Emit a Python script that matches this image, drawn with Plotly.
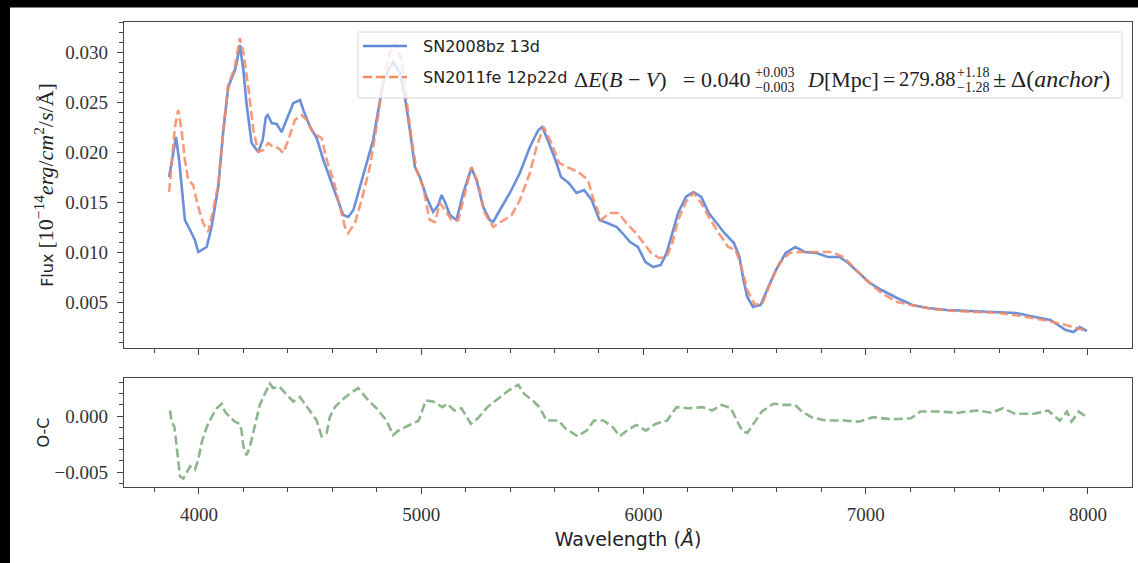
import plotly.graph_objects as go

# ---------------- data ----------------
wl_08bz = [3866, 3897, 3911, 3922, 3937, 3960, 3982, 3997, 4015, 4035, 4057, 4087, 4110, 4132,
           4162, 4170, 4184, 4200, 4214, 4237, 4267, 4287, 4301, 4310, 4327, 4350, 4372, 4395,
           4425, 4455, 4470, 4500, 4530, 4560, 4589, 4620, 4649, 4672, 4695, 4724, 4755, 4784,
           4807, 4829, 4852, 4874, 4904, 4927, 4949, 4972, 4994, 5024, 5054, 5077, 5092, 5107,
           5129, 5159, 5189, 5226, 5249, 5279, 5309, 5324, 5354, 5399, 5444, 5489, 5527, 5545,
           5569, 5604, 5629, 5664, 5699, 5733, 5767, 5802, 5837, 5880, 5905, 5940, 5975, 6009,
           6044, 6078, 6104, 6130, 6156, 6191, 6225, 6260, 6294, 6329, 6364, 6407, 6432, 6450,
           6467, 6493, 6527, 6562, 6596, 6640, 6683, 6726, 6778, 6830, 6881, 6916, 6968, 7019,
           7071, 7141, 7210, 7279, 7365, 7469, 7573, 7676, 7762, 7831, 7900, 7935, 7963, 7995]
flux_08bz = [0.0175, 0.0215, 0.0192, 0.0165, 0.0132, 0.0122, 0.0112, 0.0100, 0.0102, 0.0105,
             0.0125, 0.0165, 0.0222, 0.0265, 0.0282, 0.0289, 0.0307, 0.0282, 0.0249, 0.0209,
             0.0200, 0.0212, 0.0235, 0.0237, 0.0229, 0.0228, 0.0220, 0.0232, 0.0249, 0.0252,
             0.0242, 0.0225, 0.0214, 0.0192, 0.0175, 0.0155, 0.0137, 0.0135, 0.0142, 0.0165,
             0.0189, 0.0212, 0.0242, 0.0269, 0.0282, 0.0290, 0.0279, 0.0255, 0.0222, 0.0185,
             0.0175, 0.0155, 0.0140, 0.0147, 0.0157, 0.0150, 0.0137, 0.0132, 0.0159, 0.0184,
             0.0172, 0.0145, 0.0132, 0.0130, 0.0142, 0.0159, 0.0179, 0.0205, 0.0222, 0.0225,
             0.0212, 0.0192, 0.0175, 0.0169, 0.0159, 0.0162, 0.0152, 0.0132, 0.0129, 0.0125,
             0.0119, 0.0110, 0.0105, 0.0090, 0.0085, 0.0087, 0.0099, 0.0119, 0.0139, 0.0155,
             0.0160, 0.0155, 0.0139, 0.0129, 0.0119, 0.0109, 0.0095, 0.0072, 0.0055, 0.0045,
             0.0047, 0.0065, 0.0082, 0.0099, 0.0105, 0.0100, 0.0099, 0.0095, 0.0095, 0.0090,
             0.0079, 0.0069, 0.0062, 0.0054, 0.0047, 0.0044, 0.0042, 0.0041, 0.0040, 0.0039,
             0.0035, 0.0032, 0.0022, 0.0020, 0.0025, 0.0021]

wl_11fe = [3866, 3877, 3892, 3907, 3922, 3937, 3952, 3974, 3997, 4019, 4042, 4064, 4087, 4110,
           4132, 4162, 4184, 4200, 4222, 4245, 4267, 4290, 4312, 4335, 4357, 4380, 4402, 4432,
           4462, 4485, 4515, 4552, 4575, 4605, 4634, 4657, 4672, 4702, 4732, 4769, 4799, 4829,
           4859, 4882, 4912, 4934, 4957, 4979, 5009, 5032, 5039, 5062, 5084, 5107, 5137, 5167,
           5197, 5226, 5256, 5286, 5324, 5369, 5407, 5444, 5489, 5519, 5551, 5586, 5621, 5655,
           5707, 5750, 5776, 5811, 5845, 5888, 5923, 5966, 6000, 6035, 6070, 6104, 6130, 6156,
           6191, 6225, 6260, 6294, 6338, 6381, 6415, 6441, 6467, 6502, 6536, 6571, 6613, 6657,
           6709, 6778, 6847, 6899, 6942, 7002, 7071, 7141, 7227, 7300, 7400, 7500, 7600, 7700,
           7800, 7900, 7995]
flux_11fe = [0.0160, 0.0189, 0.0225, 0.0242, 0.0222, 0.0192, 0.0172, 0.0167, 0.0145, 0.0129,
             0.0120, 0.0142, 0.0167, 0.0222, 0.0267, 0.0285, 0.0314, 0.0300, 0.0265, 0.0222,
             0.0200, 0.0202, 0.0209, 0.0205, 0.0204, 0.0199, 0.0212, 0.0232, 0.0237, 0.0232,
             0.0219, 0.0214, 0.0192, 0.0172, 0.0147, 0.0125, 0.0119, 0.0129, 0.0152, 0.0185,
             0.0225, 0.0272, 0.0299, 0.0309, 0.0292, 0.0252, 0.0212, 0.0182, 0.0165, 0.0139,
             0.0132, 0.0130, 0.0149, 0.0142, 0.0132, 0.0132, 0.0159, 0.0185, 0.0169, 0.0139,
             0.0125, 0.0132, 0.0137, 0.0152, 0.0179, 0.0205, 0.0225, 0.0209, 0.0189, 0.0185,
             0.0180, 0.0172, 0.0152, 0.0132, 0.0139, 0.0139, 0.0129, 0.0119, 0.0109, 0.0099,
             0.0094, 0.0095, 0.0109, 0.0132, 0.0150, 0.0159, 0.0149, 0.0135, 0.0119, 0.0105,
             0.0102, 0.0085, 0.0062, 0.0047, 0.0049, 0.0069, 0.0089, 0.0099, 0.0100, 0.0100,
             0.0100, 0.0095, 0.0085, 0.0072, 0.0059, 0.0050, 0.0046, 0.0043, 0.0041, 0.0040,
             0.0039, 0.0036, 0.0032, 0.0027, 0.0021]

wl_oc = [3870, 3877, 3890, 3900, 3915, 3930, 3945, 3960, 3982, 3997, 4012, 4035, 4057, 4080,
         4102, 4117, 4140, 4162, 4184, 4192, 4200, 4214, 4230, 4252, 4274, 4297, 4319, 4334,
         4364, 4395, 4425, 4455, 4477, 4507, 4530, 4552, 4575, 4589, 4612, 4642, 4679, 4717,
         4739, 4762, 4799, 4844, 4874, 4897, 4947, 4989, 5021, 5053, 5096, 5117, 5149, 5181,
         5224, 5255, 5298, 5351, 5394, 5437, 5462, 5501, 5532, 5564, 5618, 5649, 5703, 5745,
         5777, 5820, 5862, 5894, 5926, 5968, 6011, 6054, 6107, 6149, 6203, 6266, 6309, 6352,
         6394, 6420, 6447, 6468, 6500, 6532, 6585, 6628, 6682, 6713, 6756, 6820, 6905, 6969,
         7033, 7118, 7203, 7246, 7331, 7416, 7501, 7565, 7618, 7672, 7757, 7820, 7873, 7905,
         7926, 7959, 7995]
oc_vals = [0.0005, -0.0005, -0.0010, -0.0030, -0.0054, -0.0056, -0.0051, -0.0045, -0.0048,
           -0.0039, -0.0024, -0.0010, -0.0001, 0.0007, 0.0011, 0.0004, -0.0001, -0.0005,
           -0.0007, -0.0013, -0.0027, -0.0035, -0.0027, -0.0007, 0.0010, 0.0020, 0.0029,
           0.0025, 0.0026, 0.0019, 0.0013, 0.0017, 0.0011, 0.0002, -0.0004, -0.0018, -0.0015,
           -0.0001, 0.0008, 0.0014, 0.0020, 0.0025, 0.0020, 0.0014, 0.0007, -0.0004, -0.0017,
           -0.0013, -0.0008, -0.0004, 0.0014, 0.0013, 0.0008, 0.0011, 0.0005, 0.0007, -0.0007,
           -0.0002, 0.0008, 0.0016, 0.0023, 0.0028, 0.0020, 0.0014, 0.0008, -0.0004, -0.0004,
           -0.0011, -0.0018, -0.0013, -0.0004, -0.0004, -0.0010, -0.0018, -0.0013, -0.0008,
           -0.0013, -0.0007, -0.0004, 0.0008, 0.0007, 0.0008, 0.0005, 0.0010, 0.0007, -0.0004,
           -0.0014, -0.0015, -0.0005, 0.0004, 0.0011, 0.0010, 0.0010, 0.0004, -0.0001, -0.0004,
           -0.0004, -0.0005, -0.0001, -0.0003, -0.0002, 0.0004, 0.0004, 0.0003, 0.0005, 0.0003,
           0.0007, 0.0002, 0.0002, 0.0005, -0.0004, 0.0004, -0.0005, 0.0004, -0.0001]

name_08bz = "SN2008bz 13d"
name_11fe = "SN2011fe 12p22d"

# ---------------- geometry helpers (pixels -> paper) ----------------
W, H = 1138, 563
L, R, T, B = 124, 1132, 22, 487


def px(x):
    return (x - L) / (R - L)


def py(y):
    return (B - y) / (B - T)


BLUE = "#5f87d7"
ORANGE = "#f58a66"
GREEN = "#8db68d"
SERIF = "Liberation Serif"
SANS = "DejaVu Sans"

fig = go.Figure()
fig.add_trace(go.Scatter(x=wl_08bz, y=flux_08bz, mode="lines", name=name_08bz,
                         line=dict(color=BLUE, width=2.6), opacity=0.92,
                         xaxis="x", yaxis="y", showlegend=False))
fig.add_trace(go.Scatter(x=wl_11fe, y=flux_11fe, mode="lines", name=name_11fe,
                         line=dict(color=ORANGE, width=2.6, dash="9px,4px"), opacity=0.85,
                         xaxis="x", yaxis="y", showlegend=False))
fig.add_trace(go.Scatter(x=wl_oc, y=oc_vals, mode="lines", name="O-C",
                         line=dict(color=GREEN, width=2.6, dash="9px,4px"),
                         xaxis="x2", yaxis="y2", showlegend=False))

axis_common = dict(showline=True, mirror=True, linecolor="#444", linewidth=1.3,
                   showgrid=False, zeroline=False, ticks="outside", ticklen=6,
                   tickwidth=1.2, tickcolor="#444",
                   tickfont=dict(family=SERIF, size=19, color="#333"))
minor_x = dict(dtick=200, tick0=0, ticklen=3.5, ticks="outside", tickcolor="#444")
minor_y = dict(dtick=0.001, tick0=0, ticklen=3.5, ticks="outside", tickcolor="#444")

flux_title = ("Flux <span style=\"font-family:'Liberation Serif';font-size:22px\">[10<sup>−14</sup>"
              "<i>erg</i>/<i>cm</i><sup>2</sup>/<i>s</i>/Å]</span>")

xr = [3663, 8198]
fig.update_layout(
    width=W, height=H,
    margin=dict(l=L, r=W - R, t=T, b=H - B),
    paper_bgcolor="white", plot_bgcolor="white",
    xaxis=dict(domain=[0, 1], anchor="y", range=xr, dtick=1000, tick0=0,
               showticklabels=False, minor=minor_x, **axis_common),
    xaxis2=dict(domain=[0, 1], anchor="y2", range=xr, dtick=1000, tick0=0, matches="x",
                ticklabelstandoff=4, minor=minor_x,
                title=dict(text="Wavelength (<i>Å</i>)", standoff=8,
                           font=dict(family=SANS, size=19, color="#222")),
                **axis_common),
    yaxis=dict(domain=[py(348), 1], anchor="x", range=[0.0004, 0.0330], dtick=0.005, tick0=0,
               tickformat=".3f", ticklabelstandoff=5, minor=minor_y,
               title=dict(text=flux_title, standoff=7,
                          font=dict(family=SANS, size=16, color="#222")),
               **axis_common),
    yaxis2=dict(domain=[0, py(378)], anchor="x2", range=[-0.00634, 0.0034], dtick=0.005,
                tick0=0, tickformat=".3f", ticklabelstandoff=5, minor=minor_y,
                title=dict(text="O-C", standoff=0,
                           font=dict(family=SANS, size=16, color="#222")),
                **axis_common),
)

shapes = []
# black strips at the top and left edge of the picture
shapes.append(dict(type="rect", xref="paper", yref="paper", x0=px(0), x1=px(W), y0=py(0), y1=py(7.5),
                   fillcolor="black", line=dict(width=0), layer="above"))
shapes.append(dict(type="rect", xref="paper", yref="paper", x0=px(0), x1=px(10), y0=py(0), y1=py(H),
                   fillcolor="black", line=dict(width=0), layer="above"))
# legend box and samples
shapes.append(dict(type="rect", xref="paper", yref="paper", x0=px(358), x1=px(1122), y0=py(32), y1=py(98),
                   fillcolor="rgba(255,255,255,0.8)", line=dict(color="#d8d8d8", width=1), layer="above"))
shapes.append(dict(type="line", xref="paper", yref="paper", x0=px(363), x1=px(407), y0=py(46), y1=py(46),
                   line=dict(color=BLUE, width=2.6), layer="above"))
shapes.append(dict(type="line", xref="paper", yref="paper", x0=px(363), x1=px(407), y0=py(77), y1=py(77),
                   line=dict(color=ORANGE, width=2.6, dash="9px,4px"), layer="above"))
fig.update_layout(shapes=shapes)

ann = []


def txt(s, x, y, fam, size, color="#222"):
    ann.append(dict(text=s, x=px(x), y=py(y), xref="paper", yref="paper", showarrow=False,
                    xanchor="left", yanchor="middle",
                    font=dict(family=fam, size=size, color=color)))


# legend texts
txt(name_08bz, 421, 46, SANS, 16)
txt(name_11fe, 421, 77, SANS, 16)
txt("Δ<i>E</i>(<i>B</i> − <i>V</i>)", 572, 79, SERIF, 22)
txt("= 0.040", 681, 79, SERIF, 22)
txt("+0.003", 753, 72, SERIF, 14)
txt("−0.003", 753, 87, SERIF, 14)
txt("<i>D</i>[Mpc]", 805, 79, SERIF, 22)
txt("=", 881, 79, SERIF, 22)
txt("279.88", 897, 79, SERIF, 20.5)
txt("+1.18", 955, 72, SERIF, 14)
txt("−1.28", 955, 87, SERIF, 14)
txt("± Δ(<i>anchor</i>)", 991, 79, SERIF, 24)
fig.update_layout(annotations=ann)

fig.write_html("out.html")
